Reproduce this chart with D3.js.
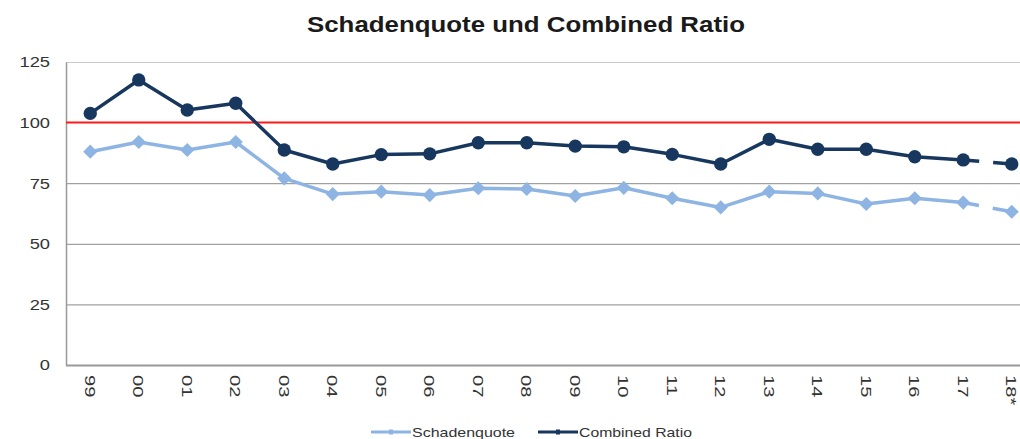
<!DOCTYPE html>
<html><head><meta charset="utf-8">
<script src="https://cdn.jsdelivr.net/npm/d3@7"></script>
<style>
body{margin:0;background:#fff;}
svg{display:block;font-family:"Liberation Sans",Arial,sans-serif;}
</style></head>
<body><svg id="c" width="1020" height="439"></svg>
<script>
const categories = ["99","00","01","02","03","04","05","06","07","08","09","10","11","12","13","14","15","16","17","18*"];
const schadenquote = [88,92,88.7,92,77,70.5,71.5,70.1,72.9,72.6,69.7,73.1,68.8,65,71.5,70.8,66.4,68.8,67,63.2];
const combinedRatio = [103.8,117.6,105.2,108,88.7,82.9,86.8,87.1,91.7,91.7,90.3,90,86.9,82.9,93.1,89,89,85.9,84.6,82.9];
const yTicks = [0,25,50,75,100,125];
const refValue = 100;
const title = "Schadenquote und Combined Ratio";
const seriesNames = ["Schadenquote","Combined Ratio"];

(function(){
const svg = d3.select("#c");
const mLeft = 66, mTop = 62, mBottom = 365, mRight = 1036;
const x = d3.scaleBand().domain(categories).range([mLeft, mRight]);
const cx = d => x(d) + x.bandwidth()/2;
const y = d3.scaleLinear().domain([0,125]).range([mBottom, mTop]);
function stretch(sel, f){
  sel.each(function(){ const L = this.getComputedTextLength(); d3.select(this).attr("textLength", L*f).attr("lengthAdjust","spacingAndGlyphs"); });
}

const t = svg.append("text").attr("x",526).attr("y",32).attr("text-anchor","middle")
  .attr("font-size",22.5).attr("font-weight","bold").attr("fill","#1a1a1a").text(title);
t.attr("textLength",438).attr("lengthAdjust","spacingAndGlyphs");

// gridlines
svg.append("g").selectAll("line").data(yTicks.filter(t=>t!==0 && t!==refValue)).join("line")
  .attr("x1",mLeft).attr("x2",1020).attr("y1",d=>y(d)+0.5).attr("y2",d=>y(d)+0.5)
  .attr("stroke",d=>d===125?"#c8c8c8":"#8a8a8a").attr("stroke-width",1);

// y axis
const ya = svg.append("g").attr("transform",`translate(${mLeft},0)`)
  .call(d3.axisLeft(y).tickValues(yTicks).tickSize(0).tickPadding(16));
ya.select(".domain").attr("stroke","#999").attr("stroke-width",1.5);
ya.selectAll("text").attr("font-size",15).attr("fill","#333").attr("font-family","Liberation Sans, Arial, sans-serif");
stretch(ya.selectAll("text"), 1.22);

// x axis
const xa = svg.append("g").attr("transform",`translate(0,${mBottom})`)
  .call(d3.axisBottom(x).tickSize(0));
xa.select(".domain").remove();
xa.selectAll("text").attr("font-size",15.5).attr("fill","#333").attr("font-family","Liberation Sans, Arial, sans-serif")
  .attr("text-anchor","start").attr("dy","0.35em")
  .attr("transform","translate(0,10) rotate(90)").attr("y",0).attr("x",0);
stretch(xa.selectAll("text"), 1.3);
svg.append("line").attr("x1",mLeft).attr("x2",1020).attr("y1",mBottom+0.5).attr("y2",mBottom+0.5)
  .attr("stroke","#999").attr("stroke-width",2);

// reference line
svg.append("line").attr("x1",mLeft).attr("x2",1020).attr("y1",y(refValue)).attr("y2",y(refValue))
  .attr("stroke","#ff1a1a").attr("stroke-width",2);

function drawSeries(vals, color, marker){
  const pts = vals.map((v,i)=>[cx(categories[i]), y(v)]);
  const n = pts.length;
  const line = d3.line();
  svg.append("path").attr("d", line(pts.slice(0,n-1))).attr("fill","none")
    .attr("stroke",color).attr("stroke-width",3.5).attr("stroke-linejoin","round");
  svg.append("path").attr("d", line(pts.slice(n-2))).attr("fill","none")
    .attr("stroke",color).attr("stroke-width",3.5).attr("stroke-dasharray","16 14 40");
  svg.append("g").selectAll("path").data(pts).join("path")
    .attr("d", marker==="circle" ? d3.symbol(d3.symbolCircle, 140) : d3.symbol(d3.symbolSquare, 100))
    .attr("transform",d=>`translate(${d[0]},${d[1]})${marker==="circle"?"":" rotate(45)"}`)
    .attr("fill",color);
}
drawSeries(schadenquote, "#8db4e2", "diamond");
drawSeries(combinedRatio, "#17375e", "circle");

// legend
const leg = [{name:seriesNames[0], color:"#8db4e2", x:371, w:103},{name:seriesNames[1], color:"#17375e", x:538, w:113}];
leg.forEach(l=>{
  svg.append("line").attr("x1",l.x).attr("x2",l.x+40).attr("y1",432).attr("y2",432).attr("stroke",l.color).attr("stroke-width",3);
  svg.append("rect").attr("x",l.x+18).attr("y",429.5).attr("width",4).attr("height",5).attr("fill",l.color);
  svg.append("text").attr("x",l.x+41).attr("y",437).attr("font-size",13.5).attr("fill","#333").text(l.name)
    .attr("textLength",l.w).attr("lengthAdjust","spacingAndGlyphs");
});
})();
</script></body></html>
